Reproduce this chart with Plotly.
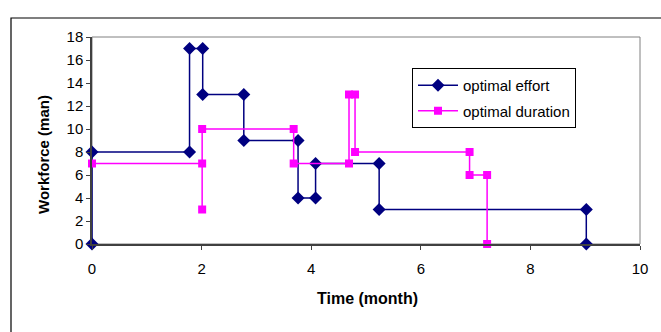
import plotly.graph_objects as go

# Workforce profiles over time (step schedules)
effort_time = [0, 0, 1.78, 1.78, 2.02, 2.02, 2.77, 2.77, 3.76, 3.76, 4.08, 4.08, 5.24, 5.24, 9.02, 9.02]
effort_workforce = [0, 8, 8, 17, 17, 13, 13, 9, 9, 4, 4, 7, 7, 3, 3, 0]

duration_time = [0, 2.01, 2.01, 2.01, 3.68, 3.68, 4.69, 4.69, 4.80, 4.80, 6.89, 6.89, 7.21, 7.21]
duration_workforce = [7, 7, 3, 10, 10, 7, 7, 13, 13, 8, 8, 6, 6, 0]

x_ticks = [0, 2, 4, 6, 8, 10]
y_ticks = [0, 2, 4, 6, 8, 10, 12, 14, 16, 18]

FONT = "Arial, Liberation Sans, sans-serif"

# plot area in pixels: x 92..640, y 37..244
L, R, T, B = 92, 640, 37, 244
W, H = R - L, B - T


def px(xp):
    return (xp - L) / W


def py(yp):
    return (B - yp) / H


fig = go.Figure()
fig.add_trace(go.Scatter(
    x=effort_time, y=effort_workforce, mode="lines+markers", name="optimal effort",
    legendgroup="a",
    line=dict(color="#000080", width=1.5),
    marker=dict(symbol="diamond", size=10, color="#000080"),
    cliponaxis=False,
))
fig.add_trace(go.Scatter(
    x=duration_time, y=duration_workforce, mode="lines+markers", name="optimal duration",
    legendgroup="b",
    line=dict(color="#FF00FF", width=1.5),
    marker=dict(symbol="square", size=8, color="#FF00FF"),
    cliponaxis=False,
))

# plot area border (grey) and outer chart frame (black)
fig.add_shape(type="rect", xref="paper", yref="paper", x0=0, x1=1, y0=0, y1=1,
              line=dict(color="#808080", width=1), layer="below")
fig.add_shape(type="rect", xref="paper", yref="paper", x0=px(11), x1=px(700), y0=py(360), y1=py(18),
              line=dict(color="#000000", width=1.2), layer="below")

fig.add_annotation(text="<b>Time (month)</b>", xref="paper", yref="paper",
                   x=px(367), y=py(298), xanchor="center", yanchor="middle", showarrow=False,
                   font=dict(family=FONT, size=16, color="black"))
fig.add_annotation(text="<b>Workforce (man)</b>", xref="paper", yref="paper",
                   x=px(43), y=py(155), xanchor="center", yanchor="middle", showarrow=False,
                   textangle=-90,
                   font=dict(family=FONT, size=15, color="black"))

fig.update_layout(
    width=661, height=332,
    margin=dict(l=L, r=661 - R, t=T, b=332 - B),
    plot_bgcolor="white", paper_bgcolor="white",
    font=dict(family=FONT, size=15, color="black"),
    showlegend=True,
    legend=dict(
        x=px(412), y=py(68), xanchor="left", yanchor="top",
        bgcolor="white", bordercolor="black", borderwidth=1,
        font=dict(family=FONT, size=15, color="black"),
        tracegroupgap=3, itemwidth=40,
    ),
    xaxis=dict(range=[0, 10], tickvals=x_ticks, showgrid=False, zeroline=False,
               showline=True, linecolor="#404040", linewidth=1.5,
               ticks="outside", ticklen=4, tickcolor="#404040", ticklabelstandoff=6),
    yaxis=dict(range=[0, 18], tickvals=y_ticks, showgrid=False, zeroline=False,
               showline=True, linecolor="#404040", linewidth=1.5,
               ticks="outside", ticklen=4, tickcolor="#404040"),
)

fig.write_html("out.html")
